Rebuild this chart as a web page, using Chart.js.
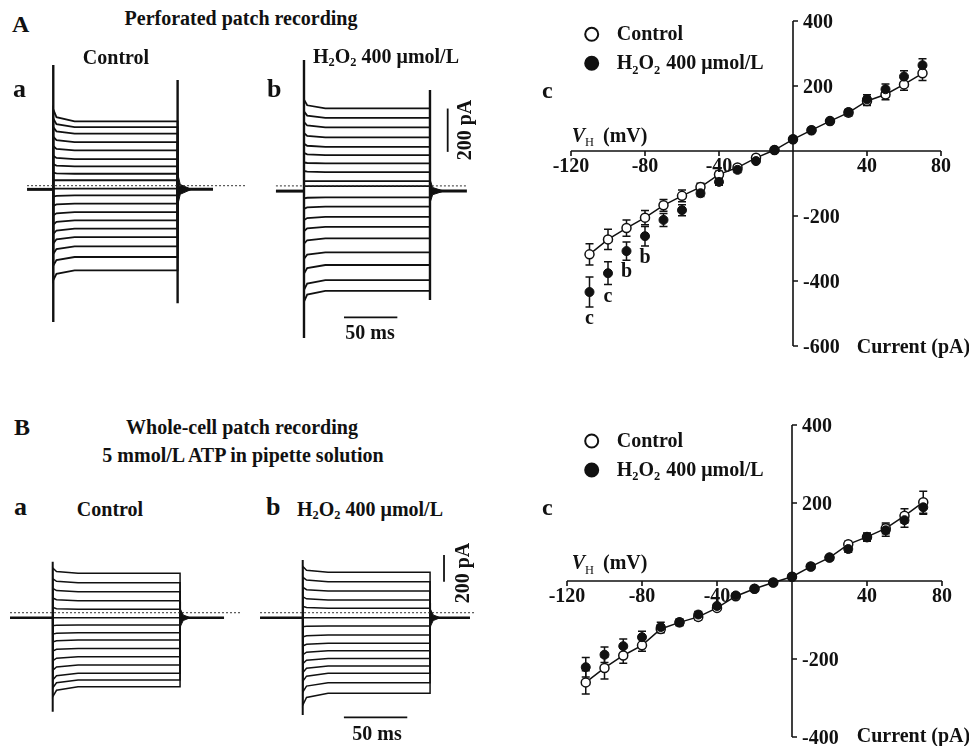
<!DOCTYPE html>
<html>
<head>
<meta charset="utf-8">
<script src="https://cdn.jsdelivr.net/npm/chart.js@4.4.1/dist/chart.umd.min.js"></script>
<style>
  body { margin: 0; background: #fff; }
  #fig { position: relative; width: 969px; height: 746px; overflow: hidden;
         font-family: "Liberation Serif", "DejaVu Serif", serif; font-weight: bold; color: #111; }
  #fig canvas { position: absolute; }
  .lbl { position: absolute; white-space: nowrap; line-height: 1; }
  .lbl sub { font-size: 0.62em; vertical-align: baseline; position: relative; top: 0.22em; }
</style>
</head>
<body>
<div id="fig">
  <canvas id="perfCtl" width="225" height="285" style="left:20px;top:55px"></canvas>
  <canvas id="perfH2" width="230" height="285" style="left:245px;top:55px"></canvas>
  <canvas id="perfIV" width="449" height="370" style="left:520px;top:0px"></canvas>
  <canvas id="wcCtl" width="240" height="190" style="left:0px;top:540px"></canvas>
  <canvas id="wcH2" width="240" height="190" style="left:240px;top:540px"></canvas>
  <canvas id="wcIV" width="449" height="366" style="left:520px;top:380px"></canvas>
</div>
<script>
// ---- current traces (pA), top trace first ----
// A, perforated patch
const perfCtlLevels = [314, 287, 257, 218, 180, 140, 106, 72, 42, 3, -28, -66, -105, -143, -181, -220, -263, -312, -374];
const perfCtlInit   = [55, 40, 30, 25, 20, 15, 10, 5, 0, 0, -5, -10, -15, -20, -25, -30, -35, -40, -45];
const perfH2Levels  = [382, 338, 294, 248, 204, 166, 128, 88, 46, 23, -29, -72, -119, -165, -218, -283, -341, -411, -460];
const perfH2Init    = [40, 30, 25, 20, 15, 10, 5, 5, 0, 0, -5, -10, -15, -20, -25, -30, -40, -45, -50];
// B, whole-cell with ATP
const wcCtlLevels = [333, 263, 195, 128, 63, 0, -55, -113, -167, -230, -293, -355, -417, -467, -518];
const wcCtlInit   = [40, 30, 25, 20, 15, 0, -5, -10, -15, -20, -30, -40, -50, -60, -75];
const wcH2Levels  = [341, 270, 200, 133, 71, 0, -62, -130, -192, -248, -305, -362, -417, -488, -567];
const wcH2Init    = [45, 35, 30, 25, 15, 0, -5, -15, -20, -30, -40, -50, -60, -70, -90];

// [holding start, step on, step off, holding end] in ms
const perfCtlTimes = [6.6, 31.2, 147.8, 181];
const perfH2Times  = [29, 55.3, 173.4, 208];
const wcCtlTimes   = [7.9, 41.6, 142.1, 176.8];
const wcH2Times    = [15.8, 49.5, 150, 181.5];
// capacitive transients [on top, on bottom, off top, off bottom] in pA
const perfCtlSpikes = [574, -612, 505, -525];
const perfH2Spikes  = [605, -678, 466, -503];
const wcCtlSpikes   = [420, -705, 120, -72];
const wcH2Spikes    = [433, -730, 110, -70];

// ---- I-V curves ----
const ivVolts = [-110, -100, -90, -80, -70, -60, -50, -40, -30, -20, -10, 0, 10, 20, 30, 40, 50, 60, 70];
const perfCtlI   = [-318, -272, -237, -205, -167, -138, -111, -72, -51, -21, 3, 36, 64, 92, 118, 154, 174, 205, 239];
const perfCtlErr = [33, 31, 25, 22, 18, 18, 12, 10, 8, 8, 5, 5, 5, 6, 10, 14, 16, 18, 22];
const perfH2I    = [-434, -376, -308, -262, -212, -182, -130, -95, -58, -31, 3, 36, 64, 92, 120, 159, 190, 229, 264];
const perfH2Err  = [46, 35, 28, 30, 20, 17, 10, 10, 8, 6, 5, 5, 5, 5, 8, 14, 16, 18, 20];
const perfSigV    = [-110, -100, -90, -80];
const perfSigMark = ['c', 'c', 'b', 'b'];
const wcCtlI   = [-260, -223, -191, -165, -123, -106, -92, -69, -39, -20, -4, 11, 37, 60, 94, 113, 135, 167, 202];
const wcCtlErr = [30, 28, 20, 15, 10, 8, 8, 5, 5, 5, 4, 4, 5, 5, 8, 10, 14, 18, 28];
const wcH2I    = [-221, -189, -167, -144, -118, -106, -86, -64, -37, -20, -4, 11, 37, 60, 82, 112, 130, 156, 189];
const wcH2Err  = [25, 20, 18, 15, 12, 8, 8, 5, 5, 5, 4, 4, 5, 5, 8, 10, 15, 18, 18];
const ivXTicks = [-120, -80, -40, 0, 40, 80];
const perfYTicks = [400, 200, 0, -200, -400, -600];
const wcYTicks   = [400, 200, 0, -200, -400];

const INK = '#111';
const SERIF = '"Liberation Serif", "DejaVu Serif", serif';

function seg(pts, w, extra) {
  return Object.assign({
    data: pts.map(p => ({ x: p[0], y: p[1] })),
    borderColor: INK, borderWidth: w, fill: false, pointRadius: 0
  }, extra || {});
}

function traceDatasets(p) {
  const [t0, on, off, t1] = p.times;
  const [amp, len] = p.tail;
  const sets = [];
  sets.push(seg([[t0, p.dotted], [p.dotEnd, p.dotted]], 1, { borderDash: [2, 2], borderColor: '#333' }));
  sets.push(seg([[on, p.spikes[0]], [on, p.spikes[1]]], p.spikeW));
  sets.push(seg([[off, p.spikes[2]], [off, p.spikes[3]]], p.spikeW));
  sets.push(seg([[t0, 0], [on, 0]], p.baseW));
  sets.push(seg([[off, 0], [t1, 0]], p.baseW));
  // ringing after the step off
  sets.push(seg([[off, amp], [off + 2.5, amp * 0.3], [off + len, 0], [off + 2.5, -amp * 0.3], [off, -amp]], 1,
    { fill: 'shape', backgroundColor: INK }));
  p.levels.forEach((lv, i) => {
    const d = p.init[i];
    sets.push(seg([[on, 0], [on, lv + d], [on + 3, lv + d * 0.35], [on + 20, lv], [off, lv], [off, 0]], p.lineW));
  });
  (p.bars || []).forEach(b => sets.push(seg(b, 1.8)));
  return sets;
}

function traceChart(id, p) {
  new Chart(document.getElementById(id), {
    type: 'line',
    data: { datasets: traceDatasets(p) },
    options: {
      responsive: false, animation: false, events: [],
      layout: { padding: 0 },
      plugins: { legend: { display: false }, tooltip: { enabled: false } },
      scales: {
        x: { type: 'linear', display: false, min: p.xRange[0], max: p.xRange[1] },
        y: { type: 'linear', display: false, min: p.yRange[0], max: p.yRange[1] }
      }
    }
  });
}

traceChart('perfCtl', { levels: perfCtlLevels, init: perfCtlInit, times: perfCtlTimes, spikes: perfCtlSpikes,
  xRange: [0, 211], yRange: [-695, 620], dotted: 17, dotEnd: 211, tail: [75, 13],
  lineW: 1.8, baseW: 3, spikeW: 2.4 });
traceChart('perfH2', { levels: perfH2Levels, init: perfH2Init, times: perfH2Times, spikes: perfH2Spikes,
  xRange: [0, 215.6], yRange: [-687, 628], dotted: 24, dotEnd: 208, tail: [55, 13],
  lineW: 1.8, baseW: 3, spikeW: 2.4,
  bars: [[[190, 181], [190, 381]], [[92.8, -583], [142.8, -583]]] });
traceChart('wcCtl', { levels: wcCtlLevels, init: wcCtlInit, times: wcCtlTimes, spikes: wcCtlSpikes,
  xRange: [0, 189.4], yRange: [-842, 583], dotted: 37.5, dotEnd: 189.4, tail: [70, 8],
  lineW: 1.5, baseW: 2.4, spikeW: 2 });
traceChart('wcH2', { levels: wcH2Levels, init: wcH2Init, times: wcH2Times, spikes: wcH2Spikes,
  xRange: [0, 189.4], yRange: [-842, 583], dotted: 37.5, dotEnd: 185, tail: [70, 8],
  lineW: 1.5, baseW: 2.4, spikeW: 2,
  bars: [[[161, 270], [161, 470]], [[82, -747], [132, -747]]] });

// text with subscripts on a canvas
function richText(ctx, parts, x, y, size) {
  parts.forEach(p => {
    const fs = p.sub ? size * 0.62 : size;
    ctx.font = (p.italic ? 'italic ' : '') + (p.normal ? '' : 'bold ') + fs + 'px ' + SERIF;
    ctx.fillText(p.t, x, y + (p.sub ? size * 0.22 : 0));
    x += ctx.measureText(p.t).width + (p.gap || 0);
  });
}
const H2O2_PARTS = [{ t: 'H' }, { t: '2', sub: 1 }, { t: 'O' }, { t: '2', sub: 1, gap: 1 }, { t: ' 400 μmol/L' }];

const ivDecor = {
  id: 'ivDecor',
  beforeDatasetsDraw(chart, args, o) {
    const { ctx, scales: { x, y } } = chart;
    const x0 = x.getPixelForValue(0), y0 = y.getPixelForValue(0);
    ctx.save();
    ctx.strokeStyle = INK;
    ctx.lineWidth = 1.6;
    ctx.beginPath();
    ctx.moveTo(x.left, y0); ctx.lineTo(x.right, y0);
    ctx.moveTo(x0, y.top); ctx.lineTo(x0, y.bottom);
    o.xTicks.forEach(v => { const px = x.getPixelForValue(v); ctx.moveTo(px, y0); ctx.lineTo(px, y0 + 5); });
    o.yTicks.forEach(v => { const py = y.getPixelForValue(v); ctx.moveTo(x0, py); ctx.lineTo(x0 + 5, py); });
    ctx.stroke();
    // error bars
    ctx.lineWidth = 1.5;
    chart.data.datasets.forEach((ds, k) => {
      const err = o.errors[k];
      ds.data.forEach((pt, i) => {
        const px = x.getPixelForValue(pt.x);
        const hi = y.getPixelForValue(pt.y + err[i]), lo = y.getPixelForValue(pt.y - err[i]);
        ctx.beginPath();
        ctx.moveTo(px, hi); ctx.lineTo(px, lo);
        ctx.moveTo(px - 4, hi); ctx.lineTo(px + 4, hi);
        ctx.moveTo(px - 4, lo); ctx.lineTo(px + 4, lo);
        ctx.stroke();
      });
    });
    ctx.restore();
  },
  afterDraw(chart, args, o) {
    const { ctx, scales: { x, y } } = chart;
    const x0 = x.getPixelForValue(0), y0 = y.getPixelForValue(0);
    ctx.save();
    ctx.fillStyle = INK;
    ctx.font = 'bold 20px ' + SERIF;
    ctx.textAlign = 'center';
    o.xTicks.forEach(v => { if (v !== 0) ctx.fillText(String(v), x.getPixelForValue(v), y0 + 21); });
    ctx.textAlign = 'left';
    o.yTicks.forEach(v => { if (v !== 0) ctx.fillText(String(v), x0 + 10, y.getPixelForValue(v) + 7); });
    // significance marks
    ctx.textAlign = 'center';
    (o.sigV || []).forEach((v, i) => {
      const k = ivVolts.indexOf(v);
      const ds = chart.data.datasets[1];
      const py = y.getPixelForValue(ds.data[k].y - o.errors[1][k]);
      ctx.fillText(o.sigMark[i], x.getPixelForValue(v), py + 17);
    });
    ctx.textAlign = 'left';
    ctx.font = 'bold 24px ' + SERIF;
    ctx.fillText('c', o.panelC[0], o.panelC[1]);
    // legend
    o.legendY.forEach((ly, k) => {
      const ds = chart.data.datasets[k];
      ctx.beginPath();
      ctx.arc(71.7, ly, 6.5, 0, Math.PI * 2);
      ctx.fillStyle = ds.pointBackgroundColor;
      ctx.fill();
      ctx.lineWidth = 2;
      ctx.strokeStyle = INK;
      ctx.stroke();
      ctx.fillStyle = INK;
      const parts = ds.label === 'Control' ? [{ t: 'Control' }] : H2O2_PARTS;
      richText(ctx, parts, 96.7, ly + 6, 20);
    });
    // axis titles
    richText(ctx, [{ t: 'V', italic: 1 }, { t: 'H', sub: 1, normal: 1, gap: 9 }, { t: '(mV)' }],
      51.7, o.vhY, 20);
    ctx.font = 'bold 20px ' + SERIF;
    ctx.fillText('Current (pA)', 336.7, o.curY);
    ctx.restore();
  }
};

function ivChart(id, ctlI, h2I, errs, yTicks, padding, extra) {
  new Chart(document.getElementById(id), {
    type: 'scatter',
    data: {
      datasets: [
        { label: 'Control', data: ivVolts.map((v, i) => ({ x: v, y: ctlI[i] })), showLine: true,
          borderColor: INK, borderWidth: 1.5, pointRadius: 4.5, pointBorderWidth: 1.5,
          pointBackgroundColor: '#fff', pointBorderColor: INK, order: 1, clip: false },
        { label: 'H2O2', data: ivVolts.map((v, i) => ({ x: v, y: h2I[i] })), showLine: false,
          pointRadius: 4.5, pointBorderWidth: 1, pointBackgroundColor: INK, pointBorderColor: INK,
          order: 0, clip: false }
      ]
    },
    options: {
      responsive: false, animation: false, events: [],
      layout: { padding },
      plugins: {
        legend: { display: false }, tooltip: { enabled: false },
        ivDecor: Object.assign({ errors: errs, xTicks: ivXTicks, yTicks }, extra)
      },
      scales: {
        x: { type: 'linear', display: false, min: -120, max: 80 },
        y: { type: 'linear', display: false, min: yTicks[yTicks.length - 1], max: yTicks[0] }
      }
    },
    plugins: [ivDecor]
  });
}

ivChart('perfIV', perfCtlI, perfH2I, [perfCtlErr, perfH2Err], perfYTicks,
  { left: 51, right: 28, top: 21, bottom: 24 },
  { sigV: perfSigV, sigMark: perfSigMark, panelC: [22, 98.3], legendY: [34.3, 63.3], vhY: 141.7, curY: 352.7 });
ivChart('wcIV', wcCtlI, wcH2I, [wcCtlErr, wcH2Err], wcYTicks,
  { left: 47, right: 27, top: 45, bottom: 9 },
  { panelC: [22, 135], legendY: [61, 90], vhY: 189.3, curY: 361.7 });

// panel labels and titles (text, x, baseline, size, align)
const H2O2_HTML = 'H<sub>2</sub>O<sub>2</sub> 400 μmol/L';
const labels = [
  ['A', 12, 32, 24, 'left'],
  ['Perforated patch recording', 241, 25, 20, 'center'],
  ['a', 13, 98, 26, 'left'],
  ['Control', 116, 64, 20, 'center'],
  ['b', 267, 98, 26, 'left'],
  [H2O2_HTML, 386, 63, 20, 'center'],
  ['50 ms', 370, 339, 20, 'center'],
  ['B', 14, 435, 24, 'left'],
  ['Whole-cell patch recording', 242, 434, 20, 'center'],
  ['5 mmol/L ATP in pipette solution', 243, 462, 20, 'center'],
  ['a', 14, 516, 26, 'left'],
  ['Control', 110, 516, 20, 'center'],
  ['b', 266, 516, 26, 'left'],
  [H2O2_HTML, 370, 516, 20, 'center'],
  ['50 ms', 377, 740, 20, 'center']
];
const fig = document.getElementById('fig');
labels.forEach(([t, x, base, fs, align]) => {
  const d = document.createElement('div');
  d.className = 'lbl';
  d.innerHTML = t;
  d.style.fontSize = fs + 'px';
  d.style.left = x + 'px';
  d.style.top = (base - 0.8375 * fs) + 'px';
  if (align === 'center') d.style.transform = 'translateX(-50%)';
  fig.appendChild(d);
});
[[464, 130], [462, 573]].forEach(([cx, cy]) => {
  const d = document.createElement('div');
  d.className = 'lbl';
  d.textContent = '200 pA';
  d.style.fontSize = '20px';
  d.style.left = cx + 'px';
  d.style.top = cy + 'px';
  d.style.transform = 'translate(-50%, -50%) rotate(-90deg)';
  fig.appendChild(d);
});
</script>
</body>
</html>
